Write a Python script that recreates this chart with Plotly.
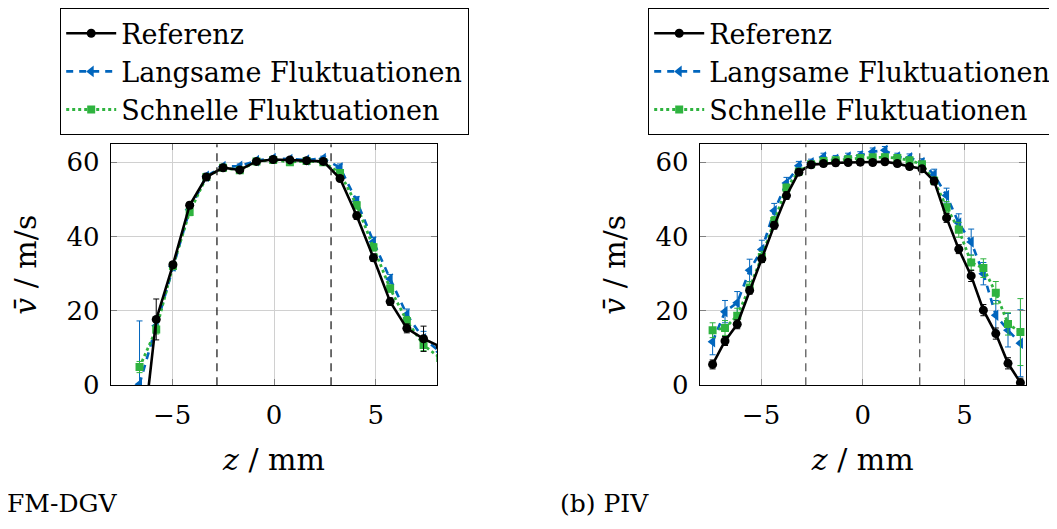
import plotly.graph_objects as go

# ---------------- data ----------------
z_fm = [-6.60, -5.78, -4.96, -4.14, -3.32, -2.50, -1.68, -0.86, -0.04, 0.78,
        1.60, 2.42, 3.24, 4.06, 4.88, 5.70, 6.52, 7.34, 8.16]
ref_fm = [-22.0, 17.7, 32.4, 48.4, 56.0, 58.5, 57.9, 60.2, 60.7, 60.6,
          60.4, 60.2, 55.6, 45.6, 34.3, 22.5, 15.3, 12.5, 10.4]
ref_fm_err = [0.5, 5.5, 0.8, 0.8, 0.6, 0.5, 0.5, 0.5, 0.5, 0.5,
              0.5, 0.5, 0.8, 1.0, 1.0, 1.0, 1.2, 3.4, 1.0]
slow_fm = [0.3, 16.0, 32.0, 47.2, 56.2, 58.8, 58.9, 60.4, 61.0, 60.7,
           60.6, 61.0, 58.5, 49.5, 38.6, 28.6, 19.0, 12.5, 9.0]
slow_fm_err = [17.0, 1.5, 1.0, 1.0, 0.8, 0.6, 0.6, 0.6, 0.6, 0.6,
               0.6, 0.6, 1.0, 1.2, 1.2, 1.2, 1.5, 2.0, 1.5]
fast_fm = [4.9, 15.0, 32.1, 46.6, 56.0, 58.5, 57.8, 60.2, 60.6, 60.0,
           60.3, 60.0, 57.1, 48.4, 37.1, 26.0, 17.3, 10.8, 7.3]
fast_fm_err = [1.5, 1.2, 1.0, 1.0, 0.8, 0.6, 0.6, 0.6, 0.6, 0.6,
               0.6, 0.6, 0.8, 1.0, 1.0, 1.0, 1.2, 1.5, 1.2]

z_piv = [-7.38, -6.77, -6.17, -5.56, -4.96, -4.35, -3.75, -3.14, -2.54, -1.93,
         -1.33, -0.72, -0.12, 0.49, 1.09, 1.70, 2.30, 2.91, 3.51, 4.12,
         4.72, 5.33, 5.93, 6.54, 7.14, 7.75]
ref_piv = [5.6, 11.9, 16.4, 25.5, 34.0, 43.0, 51.0, 57.3, 59.3, 59.6,
           59.8, 59.9, 60.0, 59.9, 60.1, 59.6, 58.8, 58.2, 54.9, 45.0,
           36.6, 29.4, 20.2, 13.9, 5.9, 0.7]
ref_piv_err = [1.2, 1.2, 1.2, 1.0, 1.0, 1.0, 1.0, 0.8, 0.8, 0.8,
               0.8, 0.8, 0.8, 0.8, 0.8, 0.8, 0.8, 0.8, 1.0, 1.2,
               1.2, 1.5, 1.5, 1.5, 1.5, 1.2]
slow_piv = [11.7, 19.8, 22.2, 30.9, 36.5, 46.9, 54.4, 59.0, 59.8, 61.4,
            60.8, 61.4, 61.8, 62.8, 63.2, 61.4, 61.2, 59.9, 56.6, 51.0,
            43.6, 38.5, 30.0, 18.8, 14.8, 11.3]
slow_piv_err = [3.5, 3.0, 3.0, 3.0, 2.5, 2.0, 1.5, 1.2, 1.0, 1.0,
                1.0, 1.0, 1.0, 1.0, 1.0, 1.0, 1.0, 1.0, 1.5, 2.0,
                2.5, 3.5, 3.0, 4.0, 4.5, 9.0]
fast_piv = [14.8, 15.4, 18.7, 26.3, 34.5, 44.2, 53.1, 57.5, 59.4, 60.3,
            60.5, 60.8, 61.1, 61.3, 61.3, 61.1, 60.5, 59.4, 55.0, 47.9,
            41.8, 33.0, 31.5, 24.9, 16.5, 14.3]
fast_piv_err = [2.0, 2.0, 2.0, 1.5, 1.5, 1.2, 1.0, 0.8, 0.8, 0.8,
                0.8, 0.8, 0.8, 0.8, 0.8, 0.8, 0.8, 0.8, 1.0, 1.5,
                2.0, 2.0, 2.5, 3.0, 3.0, 9.0]

boundary_z = [-2.8, 2.8]
x_ticks = [-5, 0, 5]
y_ticks = [0, 20, 40, 60]
series_names = ["Referenz", "Langsame Fluktuationen", "Schnelle Fluktuationen"]
captions = ["FM-DGV", "(b) PIV"]

# ---------------- style ----------------
FONT = "DejaVu Serif"
BLACK = "#000000"
BLUE = "#0065bd"
GREEN = "#2fb33f"
W, H = 1057, 529

fig = go.Figure()


def add_panel(z, ref, ref_e, slow, slow_e, fast, fast_e, xa, ya, leg):
    fig.add_trace(go.Scatter(
        x=z, y=slow, name=series_names[1], xaxis=xa, yaxis=ya, legend=leg,
        mode="lines+markers",
        line=dict(color=BLUE, width=2.6, dash="7px,6px"),
        marker=dict(symbol="triangle-left", size=10, color=BLUE),
        error_y=dict(type="data", array=slow_e, color=BLUE, thickness=1, width=3),
        legendrank=2))
    fig.add_trace(go.Scatter(
        x=z, y=fast, name=series_names[2], xaxis=xa, yaxis=ya, legend=leg,
        mode="lines+markers",
        line=dict(color=GREEN, width=2.8, dash="dot"),
        marker=dict(symbol="square", size=8, color=GREEN),
        error_y=dict(type="data", array=fast_e, color=GREEN, thickness=1, width=3),
        legendrank=3))
    fig.add_trace(go.Scatter(
        x=z, y=ref, name=series_names[0], xaxis=xa, yaxis=ya, legend=leg,
        mode="lines+markers",
        line=dict(color=BLACK, width=2.6),
        marker=dict(symbol="circle", size=9, color=BLACK),
        error_y=dict(type="data", array=ref_e, color=BLACK, thickness=1, width=3),
        legendrank=1))


add_panel(z_fm, ref_fm, ref_fm_err, slow_fm, slow_fm_err, fast_fm, fast_fm_err, "x", "y", "legend")
add_panel(z_piv, ref_piv, ref_piv_err, slow_piv, slow_piv_err, fast_piv, fast_piv_err, "x2", "y2", "legend2")

# boundary dashed lines
for xr, yr, col in (("x", "y domain", "#222222"), ("x2", "y2 domain", "#5a5a5a")):
    for bz in boundary_z:
        fig.add_shape(type="line", xref=xr, yref=yr, x0=bz, x1=bz, y0=0, y1=1,
                      line=dict(color=col, width=1.3, dash="8px,6px"), layer="above")

y_top = 1 - 139.5 / H
y_bot = 1 - 388.0 / H

axis_common = dict(
    showgrid=True, gridcolor="#d0d0d0", gridwidth=1,
    showline=True, linecolor="#000000", linewidth=1.4, mirror="ticks",
    ticks="inside", ticklen=6, tickcolor="#808080", tickwidth=1,
    zeroline=False,
    tickfont=dict(family=FONT, size=26, color="#000000"),
)

xcommon = dict(axis_common, range=[-8, 8], tickmode="array", tickvals=x_ticks,
               ticktext=["\u22125", "0", "5"], ticklabelstandoff=6,
               title=dict(text="<i>z</i> / mm", font=dict(family=FONT, size=30, color="#000000"),
                          standoff=20))
ycommon = dict(axis_common, range=[0, 64.8], tickmode="array", tickvals=y_ticks,
               ticklabelstandoff=5,
               title=dict(text="<i>v\u0304</i> / m/s", font=dict(family=FONT, size=30, color="#000000"),
                          standoff=20))

legend_common = dict(y=1 + 1 / H, xanchor="left", yanchor="top",
                     bgcolor="white", bordercolor="#000000", borderwidth=1.2,
                     font=dict(family=FONT, size=27, color="#000000"),
                     itemwidth=50, tracegroupgap=0, traceorder="normal")

fig.update_layout(
    width=W, height=H,
    margin=dict(l=0, r=0, t=0, b=0),
    paper_bgcolor="white", plot_bgcolor="white",
    font=dict(family=FONT, color="#000000"),
    showlegend=True,
    xaxis=dict(xcommon, domain=[103 / W, 429 / W], anchor="y"),
    yaxis=dict(ycommon, domain=[y_bot, y_top], anchor="x"),
    xaxis2=dict(xcommon, domain=[692 / W, 1017.5 / W], anchor="y2"),
    yaxis2=dict(ycommon, domain=[y_bot, y_top], anchor="x2"),
    legend=dict(legend_common, x=52 / W),
    legend2=dict(legend_common, x=640 / W),
    annotations=[
        dict(text=captions[0], x=-2 / W, y=1 - 510 / H, xref="paper", yref="paper",
             xanchor="left", yanchor="middle", showarrow=False, borderpad=0,
             font=dict(family=FONT, size=25, color="#000000")),
        dict(text=captions[1], x=551 / W, y=1 - 510 / H, xref="paper", yref="paper",
             xanchor="left", yanchor="middle", showarrow=False, borderpad=0,
             font=dict(family=FONT, size=25, color="#000000")),
    ],
)

fig.write_html("out.html")
